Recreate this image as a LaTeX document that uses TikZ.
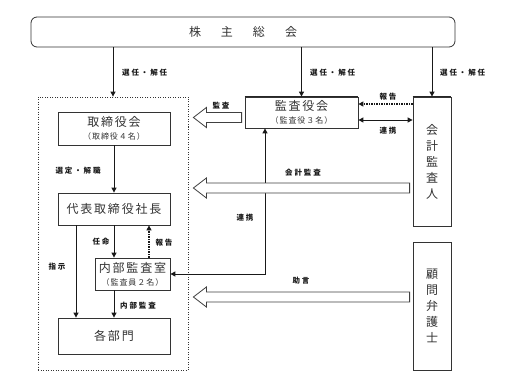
\documentclass[tikz,border=0pt]{standalone}
\usepackage{fontspec}
\setmainfont{Noto Sans CJK JP}
\newfontfamily\lblfont[LetterSpace=25]{Noto Sans CJK JP}
\newfontfamily\boxfont[LetterSpace=15]{Noto Sans CJK JP}
\newfontfamily\subfont[LetterSpace=12]{Noto Sans CJK JP}
\usetikzlibrary{arrows.meta,calc}
\tikzset{
  box/.style={draw=black!80, line width=0.8pt, fill=white, inner sep=0pt, align=center,
    text=black!80, font=\boxfont\fontsize{12}{14}\selectfont},
  vbox/.style={box, font=\fontsize{12}{16}\selectfont},
  lbl/.style={font=\lblfont\bfseries\fontsize{7.5}{9}\selectfont, inner sep=0pt, text=black!90},
  arr/.style={line width=1pt, draw=black!90, -{Triangle[length=5pt,width=5pt]}},
  dotarr/.style={line width=1.2pt, draw=black!90, dash pattern=on 1.2pt off 1.3pt, -{Triangle[length=5pt,width=5pt]}},
  bothArr/.style={line width=1pt, draw=black!90, {Triangle[length=5pt,width=5pt]}-{Triangle[length=5pt,width=5pt]}},
  hollow/.style={line width=0.8pt, draw=black!75, fill=white},
}
\newcommand\subtxt[1]{\\[-1pt]{\subfont\fontsize{8}{9}\selectfont #1}}
\newcommand\hollowarr[2]{%
  \draw[hollow] let \p1=#1, \p2=#2 in
    (\x1,{\y1+5pt}) -- ({\x2+13pt},{\y1+5pt}) -- ({\x2+13pt},{\y1+10pt}) -- (\x2,\y1)
    -- ({\x2+13pt},{\y1-10pt}) -- ({\x2+13pt},{\y1-5pt}) -- (\x1,{\y1-5pt}) -- cycle;}
\begin{document}
\begin{tikzpicture}[x=1pt,y=-1pt]
\useasboundingbox (0,0) rectangle (509,388);

% shareholders meeting
\node[box, rounded corners=6pt, minimum width=424pt, minimum height=30pt] (kabu) at (243,32)
  {株\hspace{20pt}主\hspace{20pt}総\hspace{20pt}会};

% executive area (dashed)
\node[draw=black!80, line width=0.8pt, dash pattern=on 1pt off 1.5pt, minimum width=150pt, minimum height=273pt, inner sep=0pt] (exec) at (113,233.5) {};

\node[box, minimum width=112pt, minimum height=33pt] (tori) at (114,128.5) {取締役会\subtxt{（取締役４名）}};
\node[box, minimum width=112pt, minimum height=32pt] (daihyo) at (114,209) {代表取締役社長};
\node[box, minimum width=75pt, minimum height=32pt] (naibu) at (132.5,274) {内部監査室\subtxt{（監査員２名）}};
\node[box, minimum width=112pt, minimum height=36pt] (bumon) at (114,336) {各部門};

\node[box, minimum width=113pt, minimum height=31pt] (kansa) at (301.5,112.5) {監査役会\subtxt{（監査役３名）}};
\draw[line width=1.6pt, draw=black!85] (kansa.north west) -- (kansa.north east);
\node[vbox, minimum width=38pt, minimum height=129pt] (kaikei) at (432,161.5) {会\\計\\監\\査\\人};
\draw[line width=1.6pt, draw=black!85] (kaikei.north west) -- (kaikei.north east);
\node[vbox, minimum width=38pt, minimum height=128pt] (komon) at (432,306) {顧\\問\\弁\\護\\士};

% appointments from shareholders
\draw[arr] (kabu.south -| exec.north) -- (exec.north);
\node[lbl, anchor=west] (l1) at (122,73) {選任・解任};
\draw[arr] (kabu.south -| kansa.north) -- (kansa.north);
\node[lbl, anchor=west] (l2) at (310,73) {選任・解任};
\draw[arr] (kabu.south -| kaikei.north) -- (kaikei.north);
\node[lbl, anchor=west] (l3) at (440,73) {選任・解任};

% inside executive
\draw[arr] (tori.south) -- (daihyo.north);
\node[lbl] (l4) at (78,171) {選定・解職};
\draw[arr] ([xshift=-38pt]daihyo.south) -- ([xshift=-38pt]bumon.north);
\node[lbl] (l5) at (57,267) {指示};
\draw[arr] (daihyo.south) -- (daihyo.south |- naibu.north);
\node[lbl] (l6) at (101,242) {任命};
\draw[dotarr] ([xshift=16.5pt]naibu.north) -- ([xshift=16.5pt]naibu.north |- daihyo.south);
\node[lbl] (l7) at (164,243) {報告};
\draw[arr] (naibu.south -| bumon.north) -- (bumon.north);
\node[lbl] (l8) at (138,306) {内部監査};

% auditors relations
\draw[dotarr] ($(kaikei.west |- kansa.east)+(0,-8.5)$) -- ($(kansa.east)+(0,-8.5)$);
\node[lbl] (l9) at (388,97) {報告};
\draw[bothArr] ($(kansa.east)+(0,7.5)$) -- ($(kaikei.west |- kansa.east)+(0,7.5)$);
\node[lbl] (l10) at (388,131) {連携};
\draw[bothArr] ($(kansa.south)+(-36.5,0)$) |- (naibu.east);
\node[lbl] (l11) at (245,218) {連携};

% hollow arrows
\coordinate (h1a) at ($(kansa.west)+(-3,5)$);
\coordinate (h1b) at ($(h1a -| exec.east)+(5,0)$);
\hollowarr{(h1a)}{(h1b)}
\node[lbl] (l12) at (221,106) {監査};

\coordinate (h2a) at ($(kaikei.west)+(-3,26.5)$);
\coordinate (h2b) at ($(h2a -| exec.east)+(5,0)$);
\hollowarr{(h2a)}{(h2b)}
\node[lbl] (l13) at (303,173) {会計監査};

\coordinate (h3a) at ($(komon.west)+(-3,-9)$);
\coordinate (h3b) at ($(h3a -| exec.east)+(5,0)$);
\hollowarr{(h3a)}{(h3b)}
\node[lbl] (l14) at (301,281) {助言};
\end{tikzpicture}
\end{document}
